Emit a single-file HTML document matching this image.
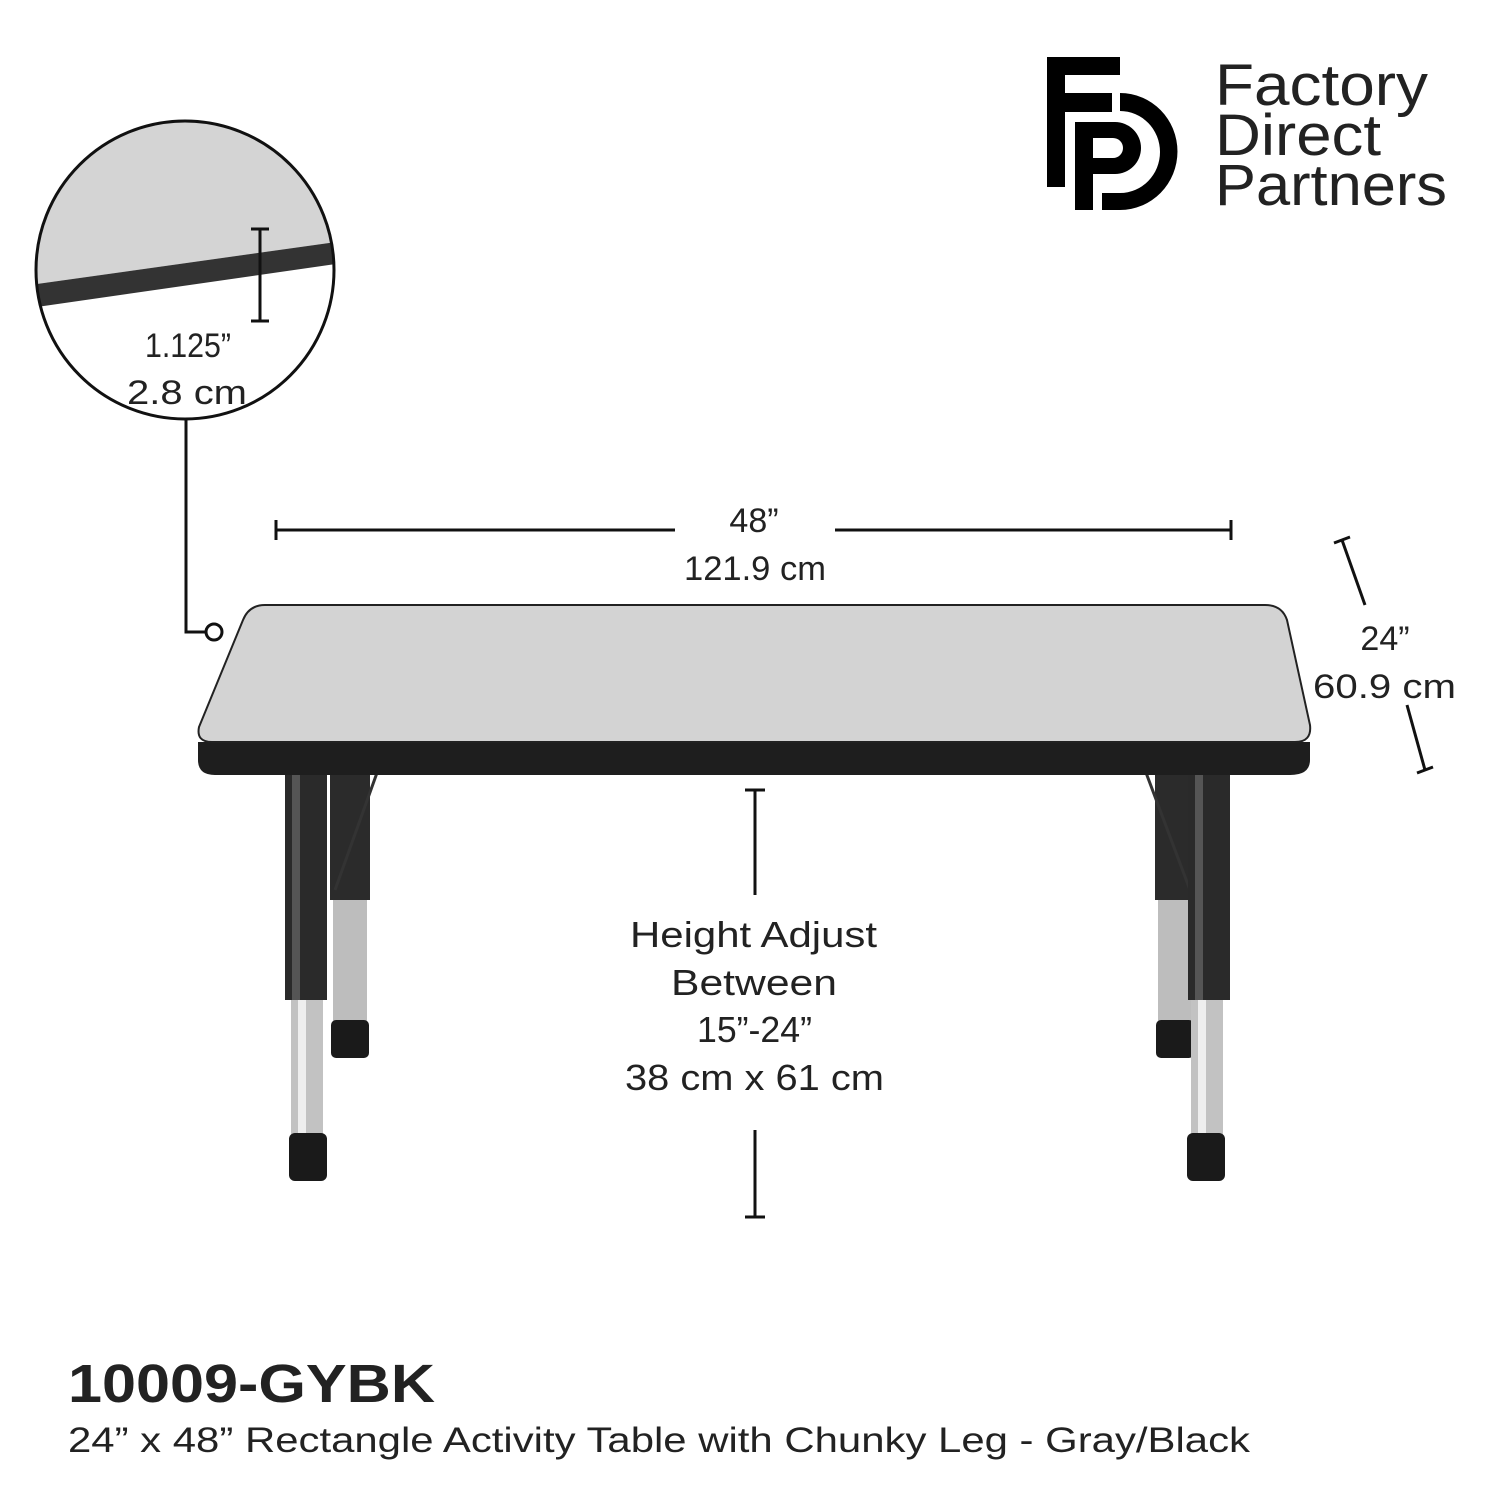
<!DOCTYPE html>
<html><head><meta charset="utf-8"><style>
html,body{margin:0;padding:0;background:#fff}
svg{display:block}
text{font-family:"Liberation Sans",sans-serif;fill:#222}
</style></head><body>
<svg width="1500" height="1500" viewBox="0 0 1500 1500" xmlns="http://www.w3.org/2000/svg">
<!-- Logo -->
<g fill="#000">
<rect x="1047" y="57" width="18" height="130"/>
<rect x="1047" y="57" width="73" height="18"/>
<rect x="1047" y="93" width="65" height="19"/>
<path d="M1075 122 H1115 A26 26 0 0 1 1115 174 H1093 V210 H1075 Z M1093 138 V158 H1113 A10 10 0 0 0 1113 138 Z"/>
<path d="M1120 93 A57 58 0 0 1 1120 210 H1102 V193 H1120 A40 41 0 0 0 1120 111 Z"/>
</g>
<text x="1215" y="105" font-size="58" textLength="213" lengthAdjust="spacingAndGlyphs">Factory</text>
<text x="1215" y="155" font-size="58" textLength="166" lengthAdjust="spacingAndGlyphs">Direct</text>
<text x="1215" y="205" font-size="58" textLength="232" lengthAdjust="spacingAndGlyphs">Partners</text>

<!-- Inset circle -->
<defs><clipPath id="c"><circle cx="185" cy="270" r="149"/></clipPath></defs>
<g clip-path="url(#c)">
<rect x="30" y="110" width="320" height="320" fill="#fff"/>
<path d="M30 110 H350 V240 L30 285 Z" fill="#d4d4d4"/>
<path d="M30 285 L350 240 L350 262 L30 308 Z" fill="#333"/>
</g>
<circle cx="185" cy="270" r="149" fill="none" stroke="#111" stroke-width="3"/>
<g stroke="#111" stroke-width="3" fill="none">
<line x1="260" y1="229" x2="260" y2="321"/>
<line x1="251" y1="229" x2="269" y2="229"/>
<line x1="251" y1="321" x2="269" y2="321"/>
<polyline points="186,419 186,632 205,632"/>
<circle cx="214" cy="632" r="8"/>
</g>
<text x="145" y="357" font-size="34" textLength="86" lengthAdjust="spacingAndGlyphs">1.125”</text>
<text x="127" y="404" font-size="34" textLength="120" lengthAdjust="spacingAndGlyphs">2.8 cm</text>

<!-- Width dimension -->
<g stroke="#111" stroke-width="3">
<line x1="276" y1="530" x2="675" y2="530"/>
<line x1="835" y1="530" x2="1231" y2="530"/>
<line x1="276" y1="520" x2="276" y2="540"/>
<line x1="1231" y1="520" x2="1231" y2="540"/>
<line x1="1342" y1="540" x2="1365" y2="605"/>
<line x1="1334" y1="543" x2="1350" y2="537"/>
<line x1="1407" y1="705" x2="1425" y2="770"/>
<line x1="1417" y1="773" x2="1433" y2="767"/>
<line x1="755" y1="790" x2="755" y2="895"/>
<line x1="745" y1="790" x2="765" y2="790"/>
<line x1="755" y1="1130" x2="755" y2="1217"/>
<line x1="745" y1="1217" x2="765" y2="1217"/>
</g>
<text x="754" y="532" font-size="34" text-anchor="middle">48”</text>
<text x="684" y="580" font-size="34" textLength="142" lengthAdjust="spacingAndGlyphs">121.9 cm</text>
<text x="1385" y="650" font-size="34" text-anchor="middle">24”</text>
<text x="1313" y="698" font-size="34" textLength="143" lengthAdjust="spacingAndGlyphs">60.9 cm</text>
<text x="630" y="947" font-size="36" textLength="247" lengthAdjust="spacingAndGlyphs">Height Adjust</text>
<text x="671" y="995" font-size="36" textLength="166" lengthAdjust="spacingAndGlyphs">Between</text>
<text x="697" y="1042" font-size="36" textLength="115" lengthAdjust="spacingAndGlyphs">15”-24”</text>
<text x="625" y="1090" font-size="36" textLength="259" lengthAdjust="spacingAndGlyphs">38 cm x 61 cm</text>

<!-- Back legs -->
<g>
<rect x="330" y="770" width="40" height="130" fill="#2b2b2b"/>
<rect x="333" y="900" width="34" height="125" fill="#bdbdbd"/>
<rect x="331" y="1020" width="38" height="38" rx="5" fill="#1a1a1a"/>
<rect x="1155" y="770" width="40" height="130" fill="#2b2b2b"/>
<rect x="1158" y="900" width="34" height="125" fill="#bdbdbd"/>
<rect x="1156" y="1020" width="38" height="38" rx="5" fill="#1a1a1a"/>
<g stroke="#333" stroke-width="3" fill="none">
<line x1="378" y1="770" x2="335" y2="890"/>
<line x1="1145" y1="770" x2="1190" y2="890"/>
</g>
</g>
<!-- Front legs -->
<g>
<rect x="285" y="770" width="42" height="230" fill="#2a2a2a"/>
<rect x="292" y="770" width="8" height="230" fill="#555"/>
<rect x="291" y="1000" width="32" height="135" fill="#c2c2c2"/>
<rect x="298" y="1000" width="8" height="135" fill="#eee"/>
<rect x="289" y="1133" width="38" height="48" rx="6" fill="#1a1a1a"/>
<rect x="1188" y="770" width="42" height="230" fill="#2a2a2a"/>
<rect x="1195" y="770" width="8" height="230" fill="#555"/>
<rect x="1191" y="1000" width="32" height="135" fill="#c2c2c2"/>
<rect x="1198" y="1000" width="8" height="135" fill="#eee"/>
<rect x="1187" y="1133" width="38" height="48" rx="6" fill="#1a1a1a"/>
</g>
<!-- Table top -->
<path d="M198 742 L198 760 Q198 775 215 775 L1290 775 Q1310 775 1310 760 L1310 742 Z" fill="#1e1e1e"/>
<path d="M265 605 L1265 605 Q1282 605 1287 620 L1310 725 Q1312 742 1295 742 L212 742 Q196 742 199 727 L243 620 Q249 605 265 605 Z" fill="#d3d3d3" stroke="#222" stroke-width="2"/>

<!-- Bottom text -->
<text x="68" y="1402" font-size="54" font-weight="bold" fill="#111" textLength="367" lengthAdjust="spacingAndGlyphs">10009-GYBK</text>
<text x="68" y="1452" font-size="35" textLength="1182" lengthAdjust="spacingAndGlyphs">24” x 48” Rectangle Activity Table with Chunky Leg - Gray/Black</text>
</svg>
</body></html>
